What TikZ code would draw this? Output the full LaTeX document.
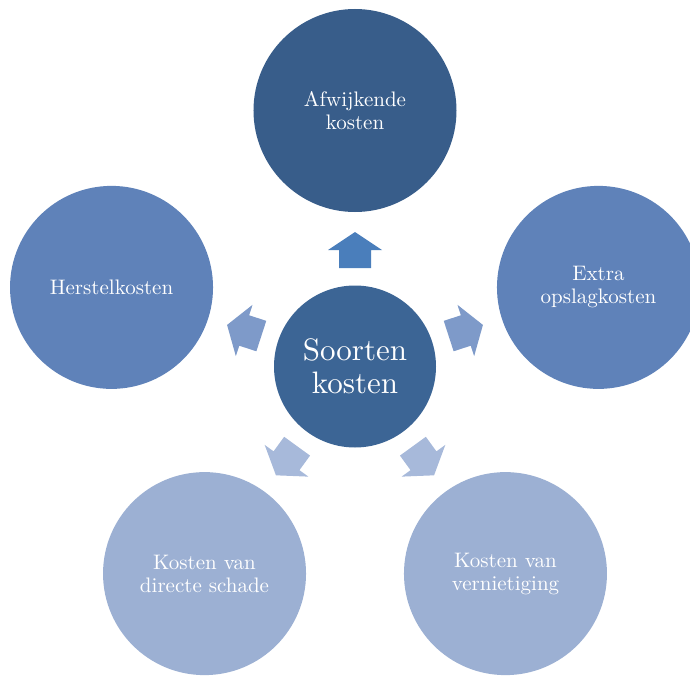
\documentclass[tikz,border=0pt]{standalone}
\usepackage{fontspec}
\setmainfont{lmroman10-regular.otf}
\usepackage{tikz}
\definecolor{ctop}{HTML}{385D8A}
\definecolor{ccenter}{HTML}{3C6595}
\definecolor{cside}{HTML}{5F82B9}
\definecolor{cbottom}{HTML}{9CB0D3}
\definecolor{atop}{HTML}{4A7EBB}
\definecolor{aside}{HTML}{7E9AC9}
\definecolor{abottom}{HTML}{A7B9DA}
\tikzset{
  outer/.style={circle, minimum size=203pt, inner sep=0pt, text=white, align=center,
    font=\fontsize{21}{23}\selectfont},
  hub/.style={circle, minimum size=162pt, inner sep=0pt, text=white, align=center,
    font=\fontsize{31}{33}\selectfont, fill=ccenter},
}
\newcommand{\blockarr}[2]{%
  \begin{scope}[rotate=#1]
    \fill[#2] (98.5,-16) -- (116.5,-16) -- (116.5,-27) -- (134.5,0) -- (116.5,27) -- (116.5,16) -- (98.5,16) -- cycle;
  \end{scope}}
\begin{document}
\begin{tikzpicture}[x=1pt,y=1pt]
\useasboundingbox (-355,-308.5) rectangle (335,366.5);
\node[hub] (c) at (0,0) {Soorten\\kosten};
\node[outer, fill=ctop] (t) at (90:256) {Afwijkende\\kosten};
\node[outer, fill=cside] (r) at (18:256) {Extra\\opslagkosten};
\node[outer, fill=cside] (l) at (162:256) {Herstelkosten};
\node[outer, fill=cbottom] (bl) at (234:256) {Kosten van\\directe schade};
\node[outer, fill=cbottom] (br) at (306:256) {Kosten van\\vernietiging};
\blockarr{90}{atop}
\blockarr{18}{aside}
\blockarr{162}{aside}
\blockarr{234}{abottom}
\blockarr{306}{abottom}
\end{tikzpicture}
\end{document}
